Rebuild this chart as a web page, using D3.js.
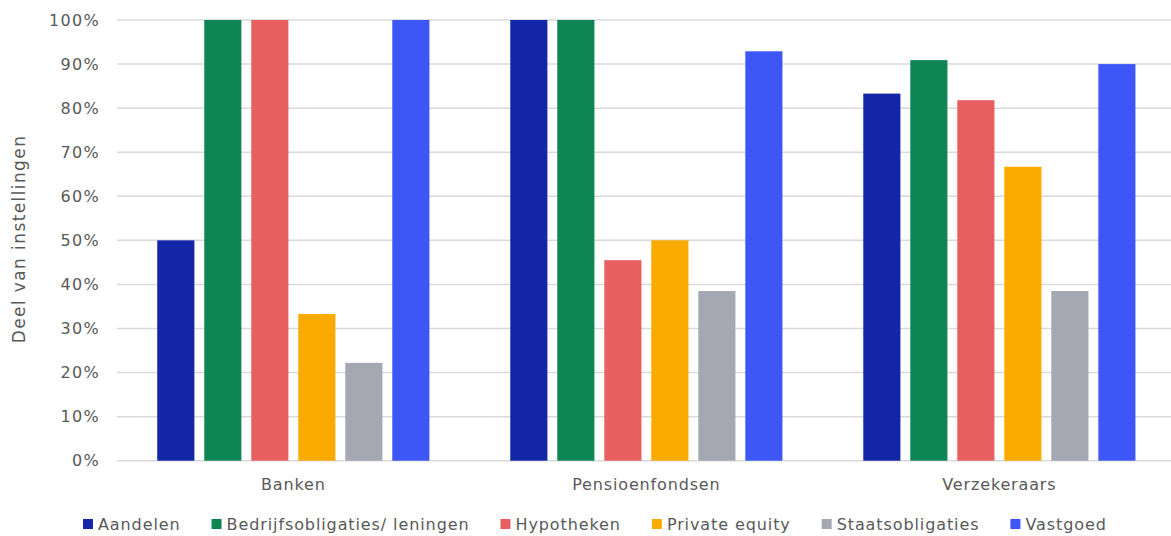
<!DOCTYPE html>
<html>
<head>
<meta charset="utf-8">
<script src="https://cdn.jsdelivr.net/npm/d3@7"></script>
<style>
  body { margin: 0; background: #fff; }
  svg { font-family: "DejaVu Sans", Verdana, sans-serif; }
</style>
</head>
<body>
<svg id="chart" width="1171" height="536"></svg>
<script>
// data
var groups = ["Banken", "Pensioenfondsen", "Verzekeraars"];
var series = ["Aandelen", "Bedrijfsobligaties/ leningen", "Hypotheken", "Private equity", "Staatsobligaties", "Vastgoed"];
var colors = ["#1326a7", "#0e8654", "#e85f5f", "#fbaa00", "#a5a7b3", "#3d57f7"];
var aandelen = [50, 100, 83.3];
var bedrijfsobligaties = [100, 100, 90.9];
var hypotheken = [100, 45.5, 81.8];
var privateEquity = [33.3, 50, 66.7];
var staatsobligaties = [22.2, 38.5, 38.5];
var vastgoed = [100, 92.9, 90];
var yTicks = [0, 10, 20, 30, 40, 50, 60, 70, 80, 90, 100];

var values = [aandelen, bedrijfsobligaties, hypotheken, privateEquity, staatsobligaties, vastgoed];

var svg = d3.select("#chart");
var textColor = "#595959";

var y = d3.scaleLinear().domain([0, 100]).range([460.7, 20]);
var x0 = d3.scaleBand().domain(groups).range([117, 1175.7]).paddingInner(0.229).paddingOuter(0.114);
var x1 = d3.scaleBand().domain(series).range([0, x0.bandwidth()]).paddingInner(0.21).paddingOuter(0);

// gridlines
svg.append("g").selectAll("line")
  .data(yTicks).enter()
  .append("line")
  .attr("x1", 117).attr("x2", 1171)
  .attr("y1", function(d) { return y(d); })
  .attr("y2", function(d) { return y(d); })
  .attr("stroke", "#d9d9d9")
  .attr("stroke-width", 1.5);

// y axis labels
var yAxis = svg.append("g")
  .attr("transform", "translate(100,0)")
  .call(d3.axisLeft(y).tickValues(yTicks).tickSize(0).tickPadding(0).tickFormat(function(d) { return d + "%"; }));
yAxis.select(".domain").remove();
yAxis.selectAll("text")
  .attr("fill", textColor)
  .attr("font-size", "16px")
  .attr("letter-spacing", "1.3px")
  .attr("font-family", "DejaVu Sans, Verdana, sans-serif");

// bars
var gs = svg.append("g").selectAll("g")
  .data(groups).enter()
  .append("g")
  .attr("transform", function(d) { return "translate(" + x0(d) + ",0)"; });

gs.selectAll("rect")
  .data(function(g, gi) {
    return series.map(function(s, si) { return { s: s, v: values[si][gi], c: colors[si] }; });
  })
  .enter()
  .append("rect")
  .attr("x", function(d) { return x1(d.s); })
  .attr("width", x1.bandwidth())
  .attr("y", function(d) { return y(d.v); })
  .attr("height", function(d) { return y(0) - y(d.v); })
  .attr("fill", function(d) { return d.c; });

// category labels
var xAxis = svg.append("g")
  .attr("transform", "translate(0,461)")
  .call(d3.axisBottom(x0).tickSize(0).tickPadding(18));
xAxis.select(".domain").remove();
xAxis.selectAll("text")
  .attr("fill", textColor)
  .attr("font-size", "16px")
  .attr("letter-spacing", "0.85px")
  .attr("font-family", "DejaVu Sans, Verdana, sans-serif");

// axis title
svg.append("text")
  .attr("transform", "translate(25,239) rotate(-90)")
  .attr("text-anchor", "middle")
  .attr("fill", textColor)
  .attr("font-size", "17px")
  .attr("letter-spacing", "1.4px")
  .text("Deel van instellingen");

// legend
var legend = svg.append("g");
var items = legend.selectAll("g")
  .data(series).enter()
  .append("g");
items.append("rect")
  .attr("width", 10).attr("height", 10)
  .attr("y", -9)
  .attr("fill", function(d, i) { return colors[i]; });
items.append("text")
  .attr("x", 15)
  .attr("y", 0)
  .attr("dy", "0.1em")
  .attr("fill", textColor)
  .attr("font-size", "16px")
  .attr("letter-spacing", "0.9px")
  .text(function(d) { return d; });

var pos = 0, offsets = [];
items.each(function() {
  offsets.push(pos);
  pos += this.getBBox().width + 31;
});
var startX = 83;
items.attr("transform", function(d, i) { return "translate(" + (startX + offsets[i]) + ",528)"; });
</script>
</body>
</html>
